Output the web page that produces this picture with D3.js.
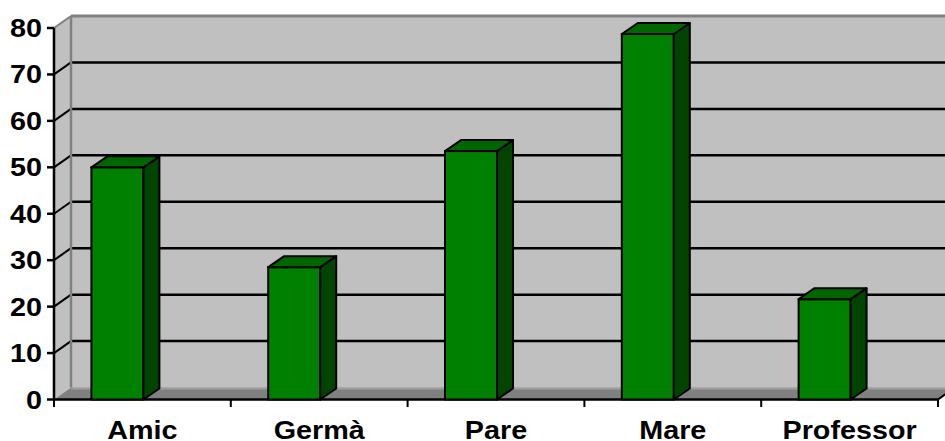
<!DOCTYPE html>
<html>
<head>
<meta charset="utf-8">
<script src="https://cdn.jsdelivr.net/npm/d3@7"></script>
<style>
  body { margin: 0; background: #fff; }
  text { font-family: "Liberation Sans", Arial, sans-serif; font-weight: bold; fill: #000; }
</style>
</head>
<body>
<svg id="chart" width="945" height="441"></svg>
<script>
// data
const categories = ["Amic", "Germà", "Pare", "Mare", "Professor"]
const values = [50, 28.5, 53.5, 78.7, 21.6]
const yTicks = [0, 10, 20, 30, 40, 50, 60, 70, 80]

const W = 945, H = 441
const LEFT = 54, RIGHT = 938, BOTTOM = 399.5, TOP = 28
const WALL = { dx: 17, dy: -12 }   // depth of the back wall
const BAR = { dx: 16, dy: -11 }    // depth of each column
const BAR_W = 52

const svg = d3.select("#chart")

const x = d3.scaleBand().domain(categories).range([LEFT, RIGHT])
const y = d3.scaleLinear().domain([0, 80]).range([BOTTOM, TOP])

const poly = pts => pts.map(p => p.join(",")).join(" ")

// left side wall
svg.append("polygon")
  .attr("points", poly([[LEFT, y(0)], [LEFT, y(80)], [LEFT + WALL.dx, y(80) + WALL.dy], [LEFT + WALL.dx, y(0) + WALL.dy]]))
  .attr("fill", "#c0c0c0")

// back wall
svg.append("rect")
  .attr("x", LEFT + WALL.dx)
  .attr("y", y(80) + WALL.dy)
  .attr("width", RIGHT - LEFT)
  .attr("height", y(0) - y(80))
  .attr("fill", "#c0c0c0")

// floor
svg.append("polygon")
  .attr("points", poly([[LEFT, y(0)], [RIGHT, y(0)], [RIGHT + WALL.dx, y(0) + WALL.dy], [LEFT + WALL.dx, y(0) + WALL.dy]]))
  .attr("fill", "#808080")
svg.append("line")
  .attr("x1", LEFT + WALL.dx).attr("x2", RIGHT + WALL.dx)
  .attr("y1", y(0) + WALL.dy + 1).attr("y2", y(0) + WALL.dy + 1)
  .attr("stroke", "#a0a0a0").attr("stroke-width", 2)

// gridlines (back wall + side wall diagonals)
const grid = svg.append("g")
yTicks.filter(d => d > 0 && d < 80).forEach(d => {
  grid.append("line")
    .attr("x1", LEFT + WALL.dx).attr("x2", W)
    .attr("y1", y(d) + WALL.dy).attr("y2", y(d) + WALL.dy)
    .attr("stroke", "#000").attr("stroke-width", 2.5)
})
yTicks.filter(d => d > 0 && d < 80).forEach(d => {
  grid.append("line")
    .attr("x1", LEFT).attr("x2", LEFT + WALL.dx)
    .attr("y1", y(d)).attr("y2", y(d) + WALL.dy)
    .attr("stroke", "#000").attr("stroke-width", 2)
})

// wall edges in grey
svg.append("line")
  .attr("x1", LEFT + WALL.dx).attr("x2", LEFT + WALL.dx)
  .attr("y1", y(80) + WALL.dy).attr("y2", y(0) + WALL.dy)
  .attr("stroke", "#808080").attr("stroke-width", 2.5)
svg.append("line")
  .attr("x1", LEFT + WALL.dx).attr("x2", W)
  .attr("y1", y(80) + WALL.dy).attr("y2", y(80) + WALL.dy)
  .attr("stroke", "#808080").attr("stroke-width", 3)
svg.append("line")
  .attr("x1", LEFT).attr("x2", LEFT + WALL.dx)
  .attr("y1", y(80)).attr("y2", y(80) + WALL.dy)
  .attr("stroke", "#808080").attr("stroke-width", 2)

// y axis
svg.append("line")
  .attr("x1", LEFT).attr("x2", LEFT)
  .attr("y1", y(80)).attr("y2", y(0))
  .attr("stroke", "#000").attr("stroke-width", 2.5)
const yAx = svg.append("g")
yAx.selectAll("line.tick").data(yTicks).join("line")
  .attr("class", "tick")
  .attr("x1", LEFT - 7).attr("x2", LEFT)
  .attr("y1", d => y(d)).attr("y2", d => y(d))
  .attr("stroke", "#000").attr("stroke-width", 2.5)
yAx.selectAll("text").data(yTicks).join("text")
  .attr("transform", d => `translate(42,${y(d)}) scale(1.15,1)`)
  .attr("text-anchor", "end")
  .attr("dy", "0.36em")
  .attr("font-size", 25)
  .text(d => d)

// x axis
svg.append("line")
  .attr("x1", LEFT).attr("x2", RIGHT)
  .attr("y1", y(0)).attr("y2", y(0))
  .attr("stroke", "#000").attr("stroke-width", 2.5)
svg.append("line")
  .attr("x1", RIGHT).attr("x2", RIGHT + WALL.dx)
  .attr("y1", y(0)).attr("y2", y(0) + WALL.dy)
  .attr("stroke", "#000").attr("stroke-width", 2)
const bounds = categories.map(c => x(c)).concat([RIGHT])
svg.append("g").selectAll("line").data(bounds).join("line")
  .attr("x1", d => d).attr("x2", d => d)
  .attr("y1", y(0)).attr("y2", y(0) + 7.5)
  .attr("stroke", "#000").attr("stroke-width", 2)

// columns
const bars = svg.append("g").selectAll("g").data(categories).join("g")
bars.each(function (c, i) {
  const g = d3.select(this)
  const x0 = x(c) + x.bandwidth() / 2 - 51
  const x1 = x0 + BAR_W
  const yt = y(values[i]), yb = y(0)
  g.append("rect")
    .attr("x", x0).attr("y", yt)
    .attr("width", BAR_W).attr("height", yb - yt)
    .attr("fill", "#008000").attr("stroke", "#000").attr("stroke-width", 2)
  g.append("polygon")
    .attr("points", poly([[x1, yt], [x1 + BAR.dx, yt + BAR.dy], [x1 + BAR.dx, yb + BAR.dy], [x1, yb]]))
    .attr("fill", "#004400").attr("stroke", "#000").attr("stroke-width", 2).attr("stroke-linejoin", "round")
  g.append("polygon")
    .attr("points", poly([[x0, yt], [x1, yt], [x1 + BAR.dx, yt + BAR.dy], [x0 + BAR.dx, yt + BAR.dy]]))
    .attr("fill", "#006600").attr("stroke", "#000").attr("stroke-width", 2).attr("stroke-linejoin", "round")
})

// category labels
svg.append("g").selectAll("text").data(categories).join("text")
  .attr("transform", c => `translate(${x(c) + x.bandwidth() / 2},438.5) scale(1.15,1)`)
  .attr("text-anchor", "middle")
  .attr("font-size", 25)
  .text(c => c)
</script>
</body>
</html>
